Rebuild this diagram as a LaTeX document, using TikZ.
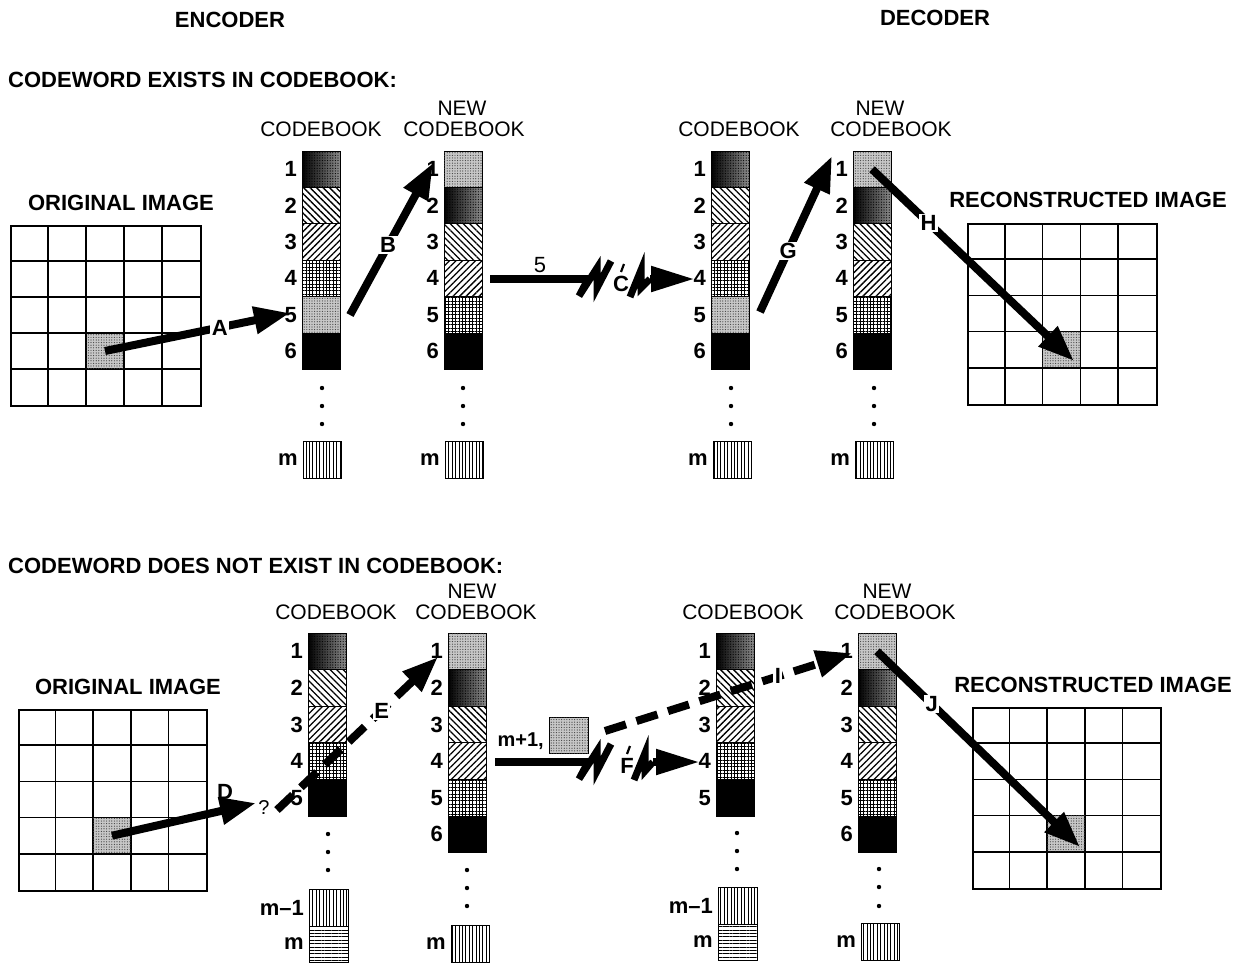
\documentclass[tikz,border=0pt]{standalone}
\usepackage{fontspec}
\setmainfont{Liberation Sans}
\usetikzlibrary{patterns.meta,arrows.meta}
\begin{document}
\begin{tikzpicture}[x=1pt,y=-1pt,
  lbl/.style={font=\fontsize{22}{24}\selectfont\bfseries, inner sep=0pt},
  cbl/.style={font=\fontsize{21}{22}\selectfont, inner sep=0pt},
  num/.style={font=\fontsize{22}{24}\selectfont\bfseries, inner sep=0pt},
  albl/.style={font=\fontsize{22}{24}\selectfont\bfseries, fill=white, inner sep=1.5pt, solid},
  cell/.style={draw, line width=0.9pt, minimum width=38pt, minimum height=36.5pt, inner sep=0pt, outer sep=0pt, anchor=north west},
  lightdot/.style={fill=black!22, postaction={pattern={Dots[distance=2.6pt,radius=0.6pt]}, pattern color=black!75}},
  darkdot/.style={left color=black, right color=black!45, postaction={pattern={Dots[distance=2.6pt,radius=0.6pt]}, pattern color=black}},
  nwl/.style={pattern={Lines[angle=-45,distance=4.6pt,line width=1.3pt]}},
  nel/.style={pattern={Lines[angle=45,distance=4.6pt,line width=1.3pt]}},
  gridp/.style={pattern={Hatch[angle=0,distance=3.4pt,line width=0.8pt]}},
  blk/.style={fill=black},
  vl/.style={pattern={Lines[angle=90,distance=3.4pt,line width=1pt]}},
  hl/.style={pattern={Lines[angle=0,distance=3.4pt,line width=1pt]}},
  gridline/.style={line width=1.6pt},
  bigarrow/.style={line width=8pt, -{Triangle[length=36pt,width=26pt]}},
  dasharrow/.style={bigarrow, dash pattern=on 22pt off 11pt},
  txarrow/.style={line width=8pt, -{Triangle[length=44pt,width=24pt]}},
  wire/.style={line width=8pt},
  bolt/.style={line width=7pt, line join=miter, line cap=butt},
]
\newcommand\imggrid[5]{%
  \node[draw, line width=1.6pt, minimum width=5*#4, minimum height=5*#5, inner sep=0pt, anchor=north west] (#1) at (#2,#3) {};
  \foreach \k in {1,...,4} {
    \draw[gridline] ({#2+\k*#4},#3) -- ({#2+\k*#4},{#3+5*#5});
    \draw[gridline] (#2,{#3+\k*#5}) -- ({#2+5*#4},{#3+\k*#5});
  }
  \node[cell, lightdot, line width=1.6pt, minimum width=#4, minimum height=#5] (#1-px) at ({#2+2*#4},{#3+3*#5}) {};
}
\newcommand\cbcol[5]{%
  \foreach \s [count=\i] in {#4} {
    \edef\cellnode{\noexpand\node[cell,\s,minimum height=#5]}
    \cellnode (#1-\i) at (#2,{#3+(\i-1)*#5}) {};
    \node[num, anchor=east] (#1-n\i) at ([xshift=-5pt]#1-\i.west) {\i};
  }
}
\newcommand\cbdots[4]{%
  \foreach \yy in {#2,#3,#4} \fill (#1,\yy) circle (2.2pt);
}
\useasboundingbox (0,0) rectangle (1249,964);
\fill[white] (0,0) rectangle (1249,964);

% headers
\node[lbl] (enc) at (230,20) {ENCODER};
\node[lbl] (dec) at (935,18) {DECODER};
\node[lbl, anchor=west] (sec1) at (8,80) {CODEWORD EXISTS IN CODEBOOK:};
\node[lbl, anchor=west] (sec2) at (8,566) {CODEWORD DOES NOT EXIST IN CODEBOOK:};

% ===== top section =====
\node[lbl] (orig1-t) at (121,203) {ORIGINAL IMAGE};
\imggrid{img1}{10}{225}{38}{36}
\node[lbl] (rec1-t) at (1088,200) {RECONSTRUCTED IMAGE};
\imggrid{img2}{967}{223}{37.8}{36.2}

\node[cbl] (cb1t-t) at (321,129) {CODEBOOK};
\cbcol{cb1t}{302}{151}{darkdot,nwl,nel,gridp,lightdot,blk}{36.4}
\cbdots{322}{388}{406}{424}
\node[cell, vl, minimum height=37pt] (cb1t-m) at (303,441) {};
\node[num, anchor=east] (cb1t-mn) at ([xshift=-5pt]cb1t-m.west) {m};

\node[cbl] (ncb1t-a) at (462,108) {NEW};
\node[cbl] (ncb1t-t) at (464,129) {CODEBOOK};
\cbcol{ncb1t}{444}{151}{lightdot,darkdot,nwl,nel,gridp,blk}{36.4}
\cbdots{463}{388}{406}{424}
\node[cell, vl, minimum height=37pt] (ncb1t-m) at (445,441) {};
\node[num, anchor=east] (ncb1t-mn) at ([xshift=-5pt]ncb1t-m.west) {m};

\node[cbl] (cb2t-t) at (739,129) {CODEBOOK};
\cbcol{cb2t}{711}{151}{darkdot,nwl,nel,gridp,lightdot,blk}{36.4}
\cbdots{731}{388}{406}{424}
\node[cell, vl, minimum height=37pt] (cb2t-m) at (713,441) {};
\node[num, anchor=east] (cb2t-mn) at ([xshift=-5pt]cb2t-m.west) {m};

\node[cbl] (ncb2t-a) at (880,108) {NEW};
\node[cbl] (ncb2t-t) at (891,129) {CODEBOOK};
\cbcol{ncb2t}{853}{151}{lightdot,darkdot,nwl,nel,gridp,blk}{36.4}
\cbdots{874}{388}{406}{424}
\node[cell, vl, minimum height=37pt] (ncb2t-m) at (855,441) {};
\node[num, anchor=east] (ncb2t-mn) at ([xshift=-5pt]ncb2t-m.west) {m};

% arrows top
\coordinate (tipA) at (290,313);
\draw[bigarrow] (img1-px.center) -- (tipA);
\path (img1-px.center) -- (tipA) node[albl, pos=0.62] (labA) {A};
\coordinate (startB) at (350,315);
\coordinate (tipB) at (433,163);
\draw[bigarrow] (startB) -- (tipB);
\path (startB) -- (tipB) node[albl, pos=0.46] (labB) {B};
% transmission C
\coordinate (c0) at (490,279);
\coordinate (c1) at (588,279);
\coordinate (c2) at (650,279);
\coordinate (tipC) at (695,279);
\draw[wire] (c0) -- (c1);
\node[font=\fontsize{22}{24}\selectfont, inner sep=0pt] (five) at (540,265) {5};
\draw[bolt] (c1) -- (579,296) -- (597,268) -- (597,288) -- (611,261);
\node[num] (labC) at (621,284) {C};
\draw[line width=2.2pt] (621,272) -- (624,264);
\draw[bolt] (630,297) -- (641,270) -- (641,288) -- (c2);
\draw[txarrow] (c2) -- (tipC);
\coordinate (startG) at (760,312);
\coordinate (tipG) at (832,156);
\draw[bigarrow] (startG) -- (tipG);
\path (startG) -- (tipG) node[albl, pos=0.39] (labG) {G};
\coordinate (tipH) at (1074,361);
\draw[bigarrow] (ncb2t-1.center) -- (tipH);
\path (ncb2t-1.center) -- (tipH) node[albl, pos=0.28] (labH) {H};

% ===== bottom section =====
\node[lbl] (orig2-t) at (128,687) {ORIGINAL IMAGE};
\imggrid{img3}{18}{709}{37.6}{36.2}
\node[lbl] (rec2-t) at (1093,685) {RECONSTRUCTED IMAGE};
\imggrid{img4}{972}{707}{37.6}{36.2}

\node[cbl] (cb1b-t) at (336,612) {CODEBOOK};
\cbcol{cb1b}{308}{633}{darkdot,nwl,nel,gridp,blk}{36.6}
\cbdots{328}{834}{852}{870}
\node[cell, vl, minimum height=37pt, minimum width=39pt] (cb1b-m1) at (309,889) {};
\node[cell, hl, minimum height=36pt, minimum width=39pt] (cb1b-m) at (309,926) {};
\node[num, anchor=east] (cb1b-m1n) at ([xshift=-5pt]cb1b-m1.west) {m\textendash 1};
\node[num, anchor=east] (cb1b-mn) at ([xshift=-5pt]cb1b-m.west) {m};

\node[cbl] (ncb1b-a) at (472,591) {NEW};
\node[cbl] (ncb1b-t) at (476,612) {CODEBOOK};
\cbcol{ncb1b}{448}{633}{lightdot,darkdot,nwl,nel,gridp,blk}{36.6}
\cbdots{467}{870}{888}{906}
\node[cell, vl, minimum height=37pt] (ncb1b-m) at (451,925) {};
\node[num, anchor=east] (ncb1b-mn) at ([xshift=-5pt]ncb1b-m.west) {m};

\node[cbl] (cb2b-t) at (743,612) {CODEBOOK};
\cbcol{cb2b}{716}{633}{darkdot,nwl,nel,gridp,blk}{36.6}
\cbdots{737}{833}{851}{869}
\node[cell, vl, minimum height=37pt, minimum width=39pt] (cb2b-m1) at (718,887) {};
\node[cell, hl, minimum height=36pt, minimum width=39pt] (cb2b-m) at (718,924) {};
\node[num, anchor=east] (cb2b-m1n) at ([xshift=-5pt]cb2b-m1.west) {m\textendash 1};
\node[num, anchor=east] (cb2b-mn) at ([xshift=-5pt]cb2b-m.west) {m};

\node[cbl] (ncb2b-a) at (887,591) {NEW};
\node[cbl] (ncb2b-t) at (895,612) {CODEBOOK};
\cbcol{ncb2b}{858}{633}{lightdot,darkdot,nwl,nel,gridp,blk}{36.6}
\cbdots{879}{869}{887}{906}
\node[cell, vl, minimum height=37pt] (ncb2b-m) at (861,923) {};
\node[num, anchor=east] (ncb2b-mn) at ([xshift=-5pt]ncb2b-m.west) {m};

% arrows bottom
\coordinate (tipD) at (256,803);
\draw[bigarrow] (img3-px.center) -- (tipD);
\node[num] (labD) at (225,792) {D};
\node[font=\fontsize{20}{22}\selectfont, inner sep=0pt] (qm) at (264,808) {?};
\coordinate (startE) at (277,810);
\coordinate (tipE) at (438,657);
\draw[dasharrow] (startE) -- (tipE);
\path (startE) -- (tipE) node[albl, pos=0.65] (labE) {E};
% m+1 and new codeword
\node[font=\fontsize{20}{22}\selectfont\bfseries, inner sep=0pt, anchor=east] (mp1) at (544,741) {m+1,};
\node[cell, lightdot, minimum height=36pt, minimum width=39pt] (txbox) at (549,717) {};
% transmission F
\coordinate (f0) at (495,762);
\coordinate (f1) at (588,762);
\coordinate (f2) at (653,762);
\coordinate (tipF) at (700,762);
\draw[wire] (f0) -- (f1);
\draw[bolt] (f1) -- (579,779) -- (597,751) -- (597,771) -- (611,744);
\node[num] (labF) at (627,766) {F};
\draw[line width=2.2pt] (627,754) -- (630,746);
\draw[bolt] (634,780) -- (645,753) -- (645,771) -- (f2);
\draw[txarrow] (f2) -- (tipF);
% dashed I
\coordinate (startI) at (605,731);
\coordinate (tipI) at (852,653);
\draw[dasharrow] (startI) -- (tipI);
\path (startI) -- (tipI) node[albl, pos=0.70] (labI) {I};
% J
\coordinate (tipJ) at (1080,847);
\draw[bigarrow] (ncb2b-1.center) -- (tipJ);
\path (ncb2b-1.center) -- (tipJ) node[albl, pos=0.27] (labJ) {J};
\end{tikzpicture}
\end{document}
